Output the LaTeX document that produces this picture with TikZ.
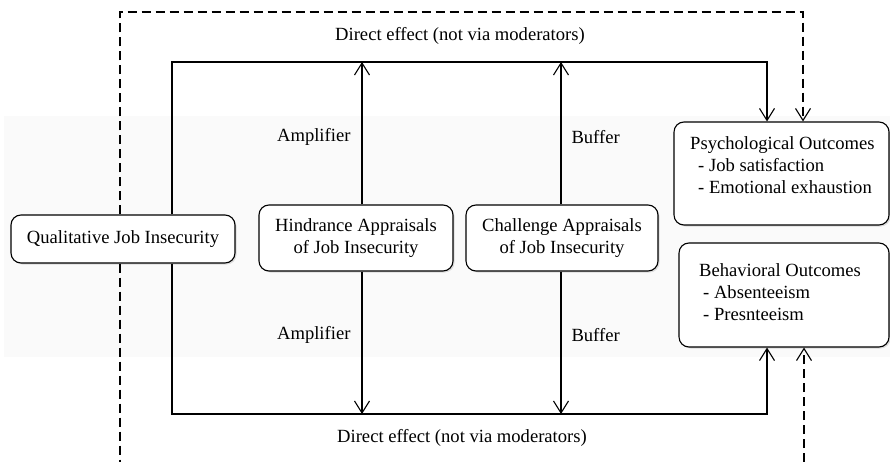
\documentclass[tikz,border=0pt]{standalone}
\usepackage{fontspec}
\setmainfont{Liberation Serif}
\usetikzlibrary{arrows.meta,shadows}

\begin{document}
\begin{tikzpicture}[x=1pt,y=-1pt,
		every node/.style={font=\fontsize{18.6}{22}\selectfont},
		outbox/.style={draw, line width=1.1pt, rounded corners=10pt, fill=white, inner sep=0pt,
			drop shadow={opacity=0.25, shadow xshift=1.5pt, shadow yshift=-1.5pt}},
		conn/.style={line width=1.1pt, -{Straight Barb[length=12pt, width=15pt, line width=1.1pt]}},
		dashconn/.style={conn, dash pattern=on 9pt off 5pt}]
				\useasboundingbox (0,0) rectangle (890,462);
				\fill[black!2] (4,116) rectangle (890,357);
				\node[outbox, minimum width=224pt, minimum height=48pt] (qji) at (123,239) {Qualitative Job Insecurity};
				\node[outbox, minimum width=194pt, minimum height=66pt, align=center] (hind) at (356,238) {Hindrance Appraisals\\of Job Insecurity};
				\node[outbox, minimum width=192pt, minimum height=66pt, align=center] (chal) at (562,238) {Challenge Appraisals\\of Job Insecurity};
				\node[outbox, minimum width=215pt, minimum height=103pt] (psych) at (781.5,173.5) {};
				\node[outbox, minimum width=210pt, minimum height=104pt] (behav) at (784,295) {};
				\node[anchor=west, align=left, inner sep=0pt] (psychtxt) at (690,165) {Psychological Outcomes\\\hspace*{8pt}- Job satisfaction\\\hspace*{8pt}- Emotional exhaustion};
				\node[anchor=west, align=left, inner sep=0pt] (behavtxt) at (699,292) {Behavioral Outcomes\\\hspace*{4pt}- Absenteeism\\\hspace*{4pt}- Presnteeism};
				\coordinate (topL) at (172,62);
				\coordinate (topR) at (767,62);
				\coordinate (botL) at (172,414);
				\coordinate (botR) at (767,414);
				\coordinate (dashTL) at (120,12);
				\coordinate (dashTR) at (803,12);
				\coordinate (dashBL) at (120,462);
				\coordinate (dashBR) at (804,462);
				\draw[conn] (qji.north -| topL) -- (topL) -- (topR) -- (topR |- psych.north);
				\draw[conn] (qji.south -| botL) -- (botL) -- (botR) -- (botR |- behav.south);
				\draw[dashconn] (qji.north -| dashTL) -- (dashTL) -- (dashTR) -- (dashTR |- psych.north);
				\draw[dashconn, -] (qji.south -| dashBL) -- (dashBL);
				\draw[dashconn] (dashBR) -- (dashBR |- behav.south);
				\draw[conn] ([xshift=6pt]hind.north) -- ([xshift=6pt]hind.north |- topL);
				\draw[conn] ([xshift=6pt]hind.south) -- ([xshift=6pt]hind.south |- botL);
				\draw[conn] ([xshift=-1pt]chal.north) -- ([xshift=-1pt]chal.north |- topL);
				\draw[conn] ([xshift=-1pt]chal.south) -- ([xshift=-1pt]chal.south |- botL);
				\node[anchor=east] (ampup) at (354,137) {Amplifier};
				\node[anchor=east] (ampdown) at (354,335) {Amplifier};
				\node[anchor=west] (bufup) at (568,137) {Buffer};
				\node[anchor=west] (bufdown) at (568,335) {Buffer};
				\node (directtop) at (460,36) {Direct effect (not via moderators)};
				\node (directbot) at (462,438) {Direct effect (not via moderators)};
		\end{tikzpicture}
\end{document}
